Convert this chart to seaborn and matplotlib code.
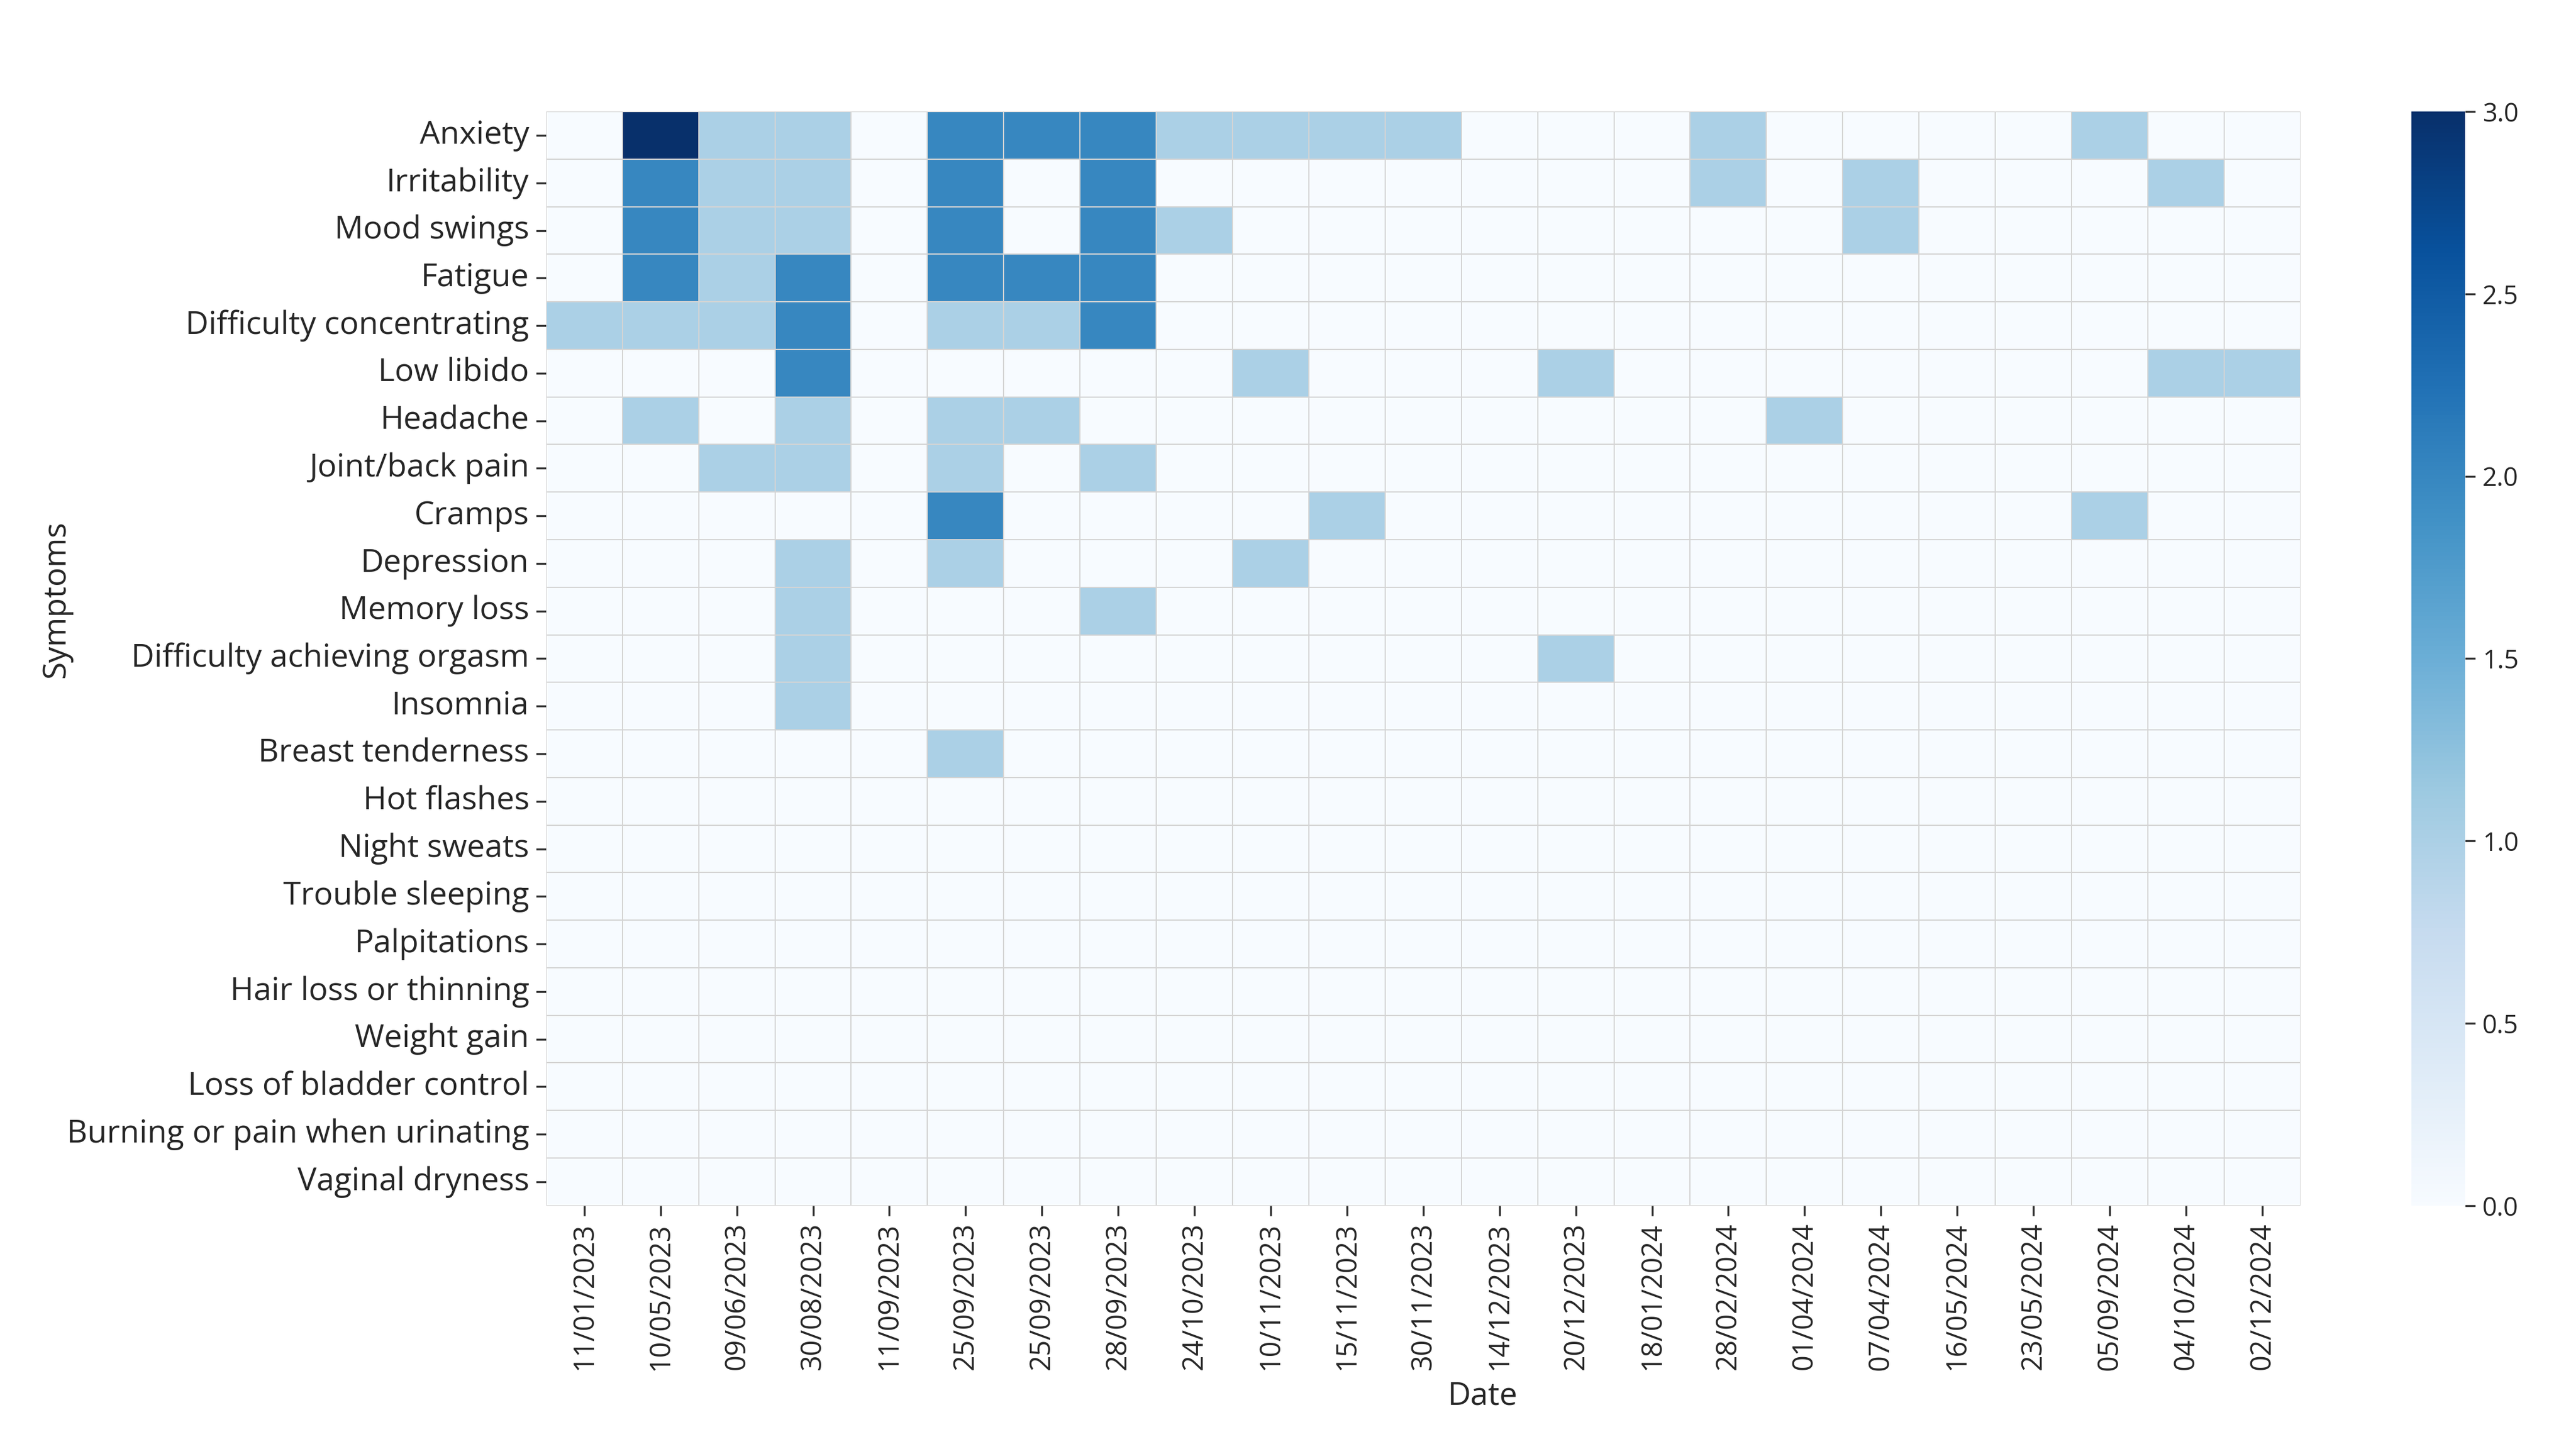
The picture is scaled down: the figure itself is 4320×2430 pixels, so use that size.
import matplotlib
matplotlib.use("Agg")
import matplotlib.pyplot as plt
import seaborn as sns
import numpy as np
import pandas as pd

dates = ["11/01/2023", "10/05/2023", "09/06/2023", "30/08/2023", "11/09/2023",
         "25/09/2023", "25/09/2023", "28/09/2023", "24/10/2023", "10/11/2023",
         "15/11/2023", "30/11/2023", "14/12/2023", "20/12/2023", "18/01/2024",
         "28/02/2024", "01/04/2024", "07/04/2024", "16/05/2024", "23/05/2024",
         "05/09/2024", "04/10/2024", "02/12/2024"]

symptoms = ["Anxiety", "Irritability", "Mood swings", "Fatigue",
            "Difficulty concentrating", "Low libido", "Headache",
            "Joint/back pain", "Cramps", "Depression", "Memory loss",
            "Difficulty achieving orgasm", "Insomnia", "Breast tenderness",
            "Hot flashes", "Night sweats", "Trouble sleeping", "Palpitations",
            "Hair loss or thinning", "Weight gain", "Loss of bladder control",
            "Burning or pain when urinating", "Vaginal dryness"]

anxiety =        [0,3,1,1,0,2,2,2,1,1,1,1,0,0,0,1,0,0,0,0,1,0,0]
irritability =   [0,2,1,1,0,2,0,2,0,0,0,0,0,0,0,1,0,1,0,0,0,1,0]
mood_swings =    [0,2,1,1,0,2,0,2,1,0,0,0,0,0,0,0,0,1,0,0,0,0,0]
fatigue =        [0,2,1,2,0,2,2,2,0,0,0,0,0,0,0,0,0,0,0,0,0,0,0]
diff_conc =      [1,1,1,2,0,1,1,2,0,0,0,0,0,0,0,0,0,0,0,0,0,0,0]
low_libido =     [0,0,0,2,0,0,0,0,0,1,0,0,0,1,0,0,0,0,0,0,0,1,1]
headache =       [0,1,0,1,0,1,1,0,0,0,0,0,0,0,0,0,1,0,0,0,0,0,0]
joint_back =     [0,0,1,1,0,1,0,1,0,0,0,0,0,0,0,0,0,0,0,0,0,0,0]
cramps =         [0,0,0,0,0,2,0,0,0,0,1,0,0,0,0,0,0,0,0,0,1,0,0]
depression =     [0,0,0,1,0,1,0,0,0,1,0,0,0,0,0,0,0,0,0,0,0,0,0]
memory_loss =    [0,0,0,1,0,0,0,1,0,0,0,0,0,0,0,0,0,0,0,0,0,0,0]
diff_orgasm =    [0,0,0,1,0,0,0,0,0,0,0,0,0,1,0,0,0,0,0,0,0,0,0]
insomnia =       [0,0,0,1,0,0,0,0,0,0,0,0,0,0,0,0,0,0,0,0,0,0,0]
breast_tender =  [0,0,0,0,0,1,0,0,0,0,0,0,0,0,0,0,0,0,0,0,0,0,0]
hot_flashes =    [0]*23
night_sweats =   [0]*23
trouble_sleep =  [0]*23
palpitations =   [0]*23
hair_loss =      [0]*23
weight_gain =    [0]*23
bladder =        [0]*23
burning =        [0]*23
vaginal_dry =    [0]*23

rows = [anxiety, irritability, mood_swings, fatigue, diff_conc, low_libido,
        headache, joint_back, cramps, depression, memory_loss, diff_orgasm,
        insomnia, breast_tender, hot_flashes, night_sweats, trouble_sleep,
        palpitations, hair_loss, weight_gain, bladder, burning, vaginal_dry]

df = pd.DataFrame(rows, index=symptoms)
df.columns = range(len(dates))

sns.set_style("white")
plt.rcParams['font.family'] = ['Open Sans', 'DejaVu Sans']

fig = plt.figure(figsize=(18, 10.125), dpi=240)
ax = fig.add_axes([0.212, 0.168, 0.681, 0.755])
cax = fig.add_axes([0.936, 0.168, 0.021, 0.755])

sns.heatmap(df, ax=ax, cbar_ax=cax, cmap="Blues", vmin=0, vmax=3,
            linewidths=0.5, linecolor="#d4d4d4")

ax.set_xticks(np.arange(len(dates)) + 0.5)
ax.set_xticklabels(dates, rotation=90, fontsize=14)
ax.set_yticks(np.arange(len(symptoms)) + 0.5)
ax.set_yticklabels(symptoms, rotation=0, fontsize=16)
ax.tick_params(axis="both", which="both", length=5, width=1, color="#333333",
               bottom=True, left=True)
ax.set_xlabel("Date", fontsize=16)
ax.set_ylabel("Symptoms", fontsize=16)
ax.xaxis.set_label_coords(0.534, -0.16)
ax.yaxis.set_label_coords(-0.27, 0.554)

cbar = ax.collections[0].colorbar
cbar.set_ticks([0.0, 0.5, 1.0, 1.5, 2.0, 2.5, 3.0])
cbar.set_ticklabels(["0.0", "0.5", "1.0", "1.5", "2.0", "2.5", "3.0"])
cax.tick_params(labelsize=13, length=5, width=1, color="#333333")
cbar.outline.set_visible(False)

fig.savefig("out.png", dpi=240)
